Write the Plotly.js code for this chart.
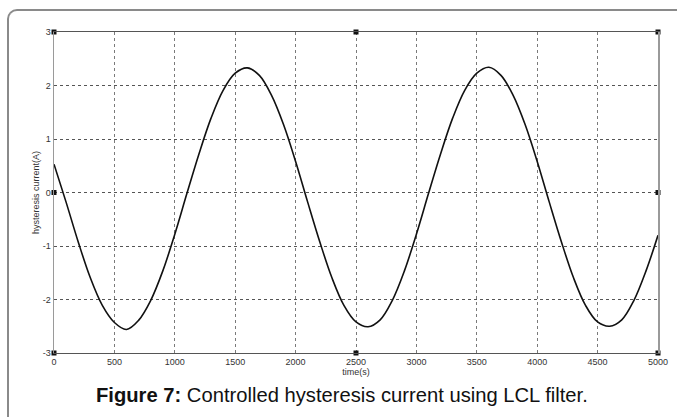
<!DOCTYPE html>
<html>
<head>
<meta charset="utf-8">
<script src="https://cdn.plot.ly/plotly-3.0.1.min.js"></script>
<style>
  html, body { margin: 0; padding: 0; background: #fff; }
  #wrap { position: relative; width: 677px; height: 417px; overflow: hidden; }
  #chart { width: 677px; height: 417px; }
  #frame { position: absolute; left: 7px; top: 9px; width: 700px; height: 430px;
           border-left: 2px solid #8a8a8a; border-top: 2px solid #8a8a8a;
           border-top-left-radius: 10px; pointer-events: none; }
</style>
</head>
<body>
<div id="wrap">
  <div id="chart"></div>
  <div id="frame"></div>
</div>
<script>
// time (s)
const timeS = [0,100,200,300,400,500,600,700,800,900,
               1000,1100,1200,1300,1400,1500,1600,1700,1800,1900,
               2000,2100,2200,2300,2400,2500,2600,2700,2800,2900,
               3000,3100,3200,3300,3400,3500,3600,3700,3800,3900,
               4000,4100,4200,4300,4400,4500,4600,4700,4800,4900,5000];
// hysteresis current (A)
const currentA = [0.53,-0.18,-0.92,-1.59,-2.11,-2.43,-2.56,-2.39,-2.02,-1.47,
                  -0.78,-0.02,0.72,1.39,1.91,2.23,2.33,2.19,1.82,1.27,
                  0.58,-0.18,-0.92,-1.59,-2.11,-2.42,-2.51,-2.38,-2.02,-1.47,
                  -0.78,-0.02,0.72,1.39,1.91,2.23,2.34,2.19,1.82,1.27,
                  0.58,-0.18,-0.92,-1.59,-2.11,-2.42,-2.50,-2.38,-2.02,-1.47,-0.80];
// small selection handles visible on the axes box
const handleX = [0, 2500, 5000, 5000, 5000, 2500, 0, 0];
const handleY = [3, 3, 3, 0, -3, -3, -3, 0];

const xTicks = [0,500,1000,1500,2000,2500,3000,3500,4000,4500,5000];
const yTicks = [-3,-2,-1,0,1,2,3];

const tickFont = {family: 'Liberation Sans Narrow, Arial Narrow, Liberation Sans, sans-serif', size: 9, color: '#333'};

const traces = [
  {x: timeS, y: currentA, type: 'scatter', mode: 'lines',
   line: {color: '#111', width: 1.6, shape: 'spline', smoothing: 1}, hoverinfo: 'skip'},
  {x: handleX, y: handleY, type: 'scatter', mode: 'markers',
   marker: {symbol: 'square', size: 5, color: '#111'}, cliponaxis: false, hoverinfo: 'skip'}
];

const layout = {
  width: 677, height: 417,
  margin: {l: 54, r: 19, t: 32, b: 64},
  paper_bgcolor: '#fff', plot_bgcolor: '#fff',
  showlegend: false,
  xaxis: {
    range: [0, 5000], tickvals: xTicks, ticktext: xTicks.map(String),
    showgrid: true, gridcolor: '#7a7a7a', griddash: 'dot', gridwidth: 1,
    zeroline: false, showline: true, linecolor: '#555', linewidth: 1, mirror: true,
    ticks: '', tickfont: tickFont, ticklabelstandoff: 0,
    title: {text: 'time(s)', font: tickFont, standoff: 2}
  },
  yaxis: {
    range: [-3, 3], tickvals: yTicks, ticktext: yTicks.map(String),
    showgrid: true, gridcolor: '#555', griddash: 'dot', gridwidth: 1,
    zeroline: false, showline: true, linecolor: '#9a9a9a', linewidth: 1.5, mirror: true,
    ticks: '', tickfont: tickFont,
    title: {text: 'hysteresis current(A)', font: tickFont, standoff: 1}
  },
  annotations: [{
    xref: 'paper', yref: 'paper', x: 0.477, y: -0.131, xanchor: 'center', yanchor: 'middle',
    showarrow: false,
    text: '<b>Figure 7:</b> Controlled hysteresis current using LCL filter.',
    font: {family: 'Liberation Sans, Arial, sans-serif', size: 20.2, color: '#111'}
  }]
};

Plotly.newPlot('chart', traces, layout, {displayModeBar: false, staticPlot: true});
</script>
</body>
</html>
